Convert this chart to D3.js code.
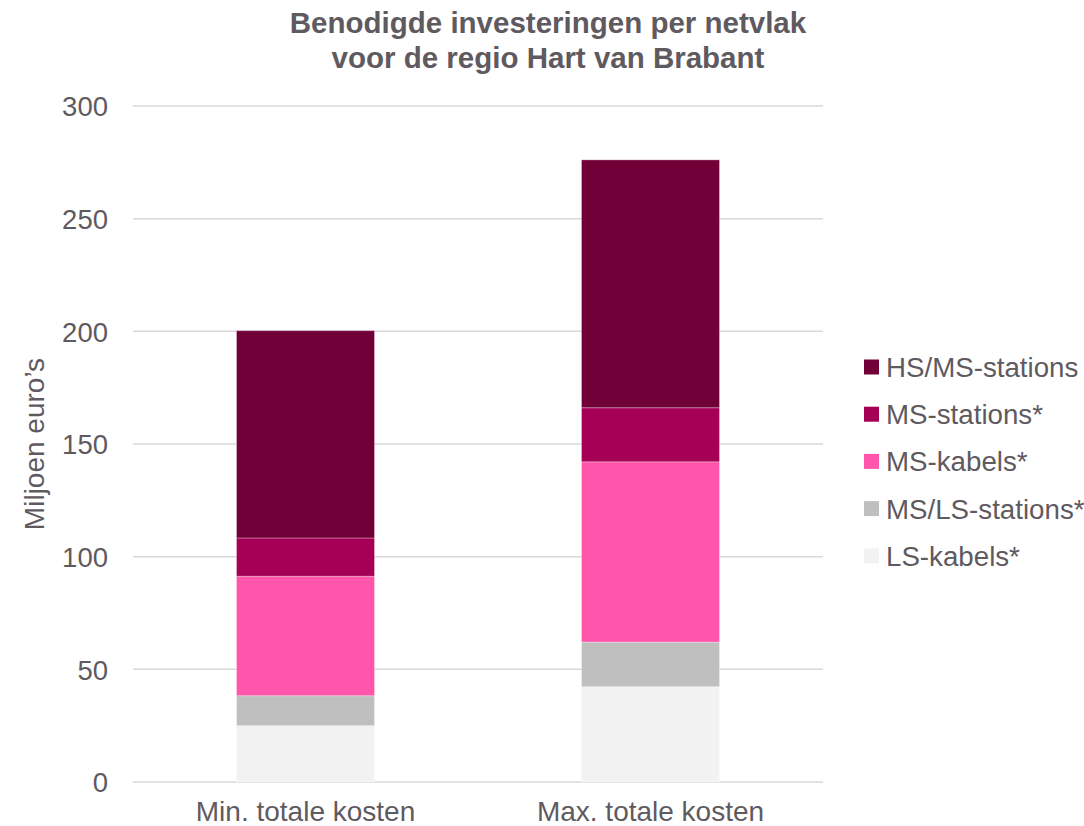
<!DOCTYPE html>
<html>
<head>
<meta charset="UTF-8">
<title>Benodigde investeringen per netvlak</title>
<script src="https://d3js.org/d3.v7.min.js"></script>
<style>
  body { margin: 0; background: #fff; }
  text { font-family: "Liberation Sans", Arial, sans-serif; fill: #5f5a60; }
</style>
</head>
<body>
<script>
var categories = ["Min. totale kosten", "Max. totale kosten"];
var seriesNames = ["LS-kabels*", "MS/LS-stations*", "MS-kabels*", "MS-stations*", "HS/MS-stations"];
var lsKabels = [25, 42.3];
var msLsStations = [13.3, 19.8];
var msKabels = [53, 80];
var msStations = [17, 24];
var hsMsStations = [92, 110];
var seriesColors = ["#f2f2f2", "#bfbfbf", "#ff55aa", "#a50055", "#720038"];
var yTicks = [0, 50, 100, 150, 200, 250, 300];

var W = 1084, H = 826;
var plotLeft = 133, plotRight = 823, plotTop = 106, plotBottom = 782;

var svg = d3.select("body").append("svg")
    .attr("width", W).attr("height", H);

var x = d3.scaleBand()
    .domain(categories)
    .range([plotLeft, plotRight])
    .paddingInner(0.6)
    .paddingOuter(0.3);

var y = d3.scaleLinear()
    .domain([0, 300])
    .range([plotBottom, plotTop]);

// gridlines
svg.append("g").selectAll("line")
    .data(yTicks)
    .enter().append("line")
    .attr("x1", plotLeft).attr("x2", plotRight)
    .attr("y1", function(d){ return y(d); })
    .attr("y2", function(d){ return y(d); })
    .attr("stroke", "#d9d9d9")
    .attr("stroke-width", 1.5);

// y axis labels
var yAxis = svg.append("g")
    .attr("transform", "translate(" + plotLeft + ",0)")
    .call(d3.axisLeft(y).tickValues(yTicks).tickSize(0).tickPadding(25));
yAxis.select(".domain").remove();
yAxis.selectAll("text")
    .style("font-size", "27.5px")
    .attr("dy", "0.36em");

// stacked data
var rows = categories.map(function(c, i){
    return {
        cat: c,
        "LS-kabels*": lsKabels[i],
        "MS/LS-stations*": msLsStations[i],
        "MS-kabels*": msKabels[i],
        "MS-stations*": msStations[i],
        "HS/MS-stations": hsMsStations[i]
    };
});
var stack = d3.stack().keys(seriesNames)(rows);

svg.append("g").selectAll("g")
    .data(stack)
    .enter().append("g")
    .attr("fill", function(d, i){ return seriesColors[i]; })
    .selectAll("rect")
    .data(function(d){ return d; })
    .enter().append("rect")
    .attr("x", function(d){ return x(d.data.cat); })
    .attr("y", function(d){ return y(d[1]); })
    .attr("width", x.bandwidth())
    .attr("height", function(d){ return y(d[0]) - y(d[1]); })
    .attr("stroke", "rgba(255,255,255,0.3)")
    .attr("stroke-width", 1);

// x axis labels
var xAxis = svg.append("g")
    .attr("transform", "translate(0," + plotBottom + ")")
    .call(d3.axisBottom(x).tickSize(0).tickPadding(19.5));
xAxis.select(".domain").remove();
xAxis.selectAll("text").style("font-size", "28px");

// axis title
svg.append("text")
    .attr("transform", "translate(44,444) rotate(-90)")
    .attr("text-anchor", "middle")
    .style("font-size", "28px")
    .text("Miljoen euro\u2019s");

// title
var title = svg.append("text")
    .attr("text-anchor", "middle")
    .style("font-size", "29.5px")
    .style("font-weight", "bold");
title.append("tspan").attr("x", 548).attr("y", 33).text("Benodigde investeringen per netvlak");
title.append("tspan").attr("x", 548).attr("y", 68).text("voor de regio Hart van Brabant");

// legend
var legendOrder = seriesNames.slice().reverse();
var legend = svg.append("g").selectAll("g")
    .data(legendOrder)
    .enter().append("g")
    .attr("transform", function(d, i){ return "translate(864," + (367 + i * 47.2) + ")"; });
legend.append("rect")
    .attr("x", 0).attr("y", -7.5)
    .attr("width", 15).attr("height", 15)
    .attr("fill", function(d){ return seriesColors[seriesNames.indexOf(d)]; });
legend.append("text")
    .attr("x", 22).attr("dy", "0.36em")
    .style("font-size", "27.7px")
    .text(function(d){ return d; });
</script>
</body>
</html>
